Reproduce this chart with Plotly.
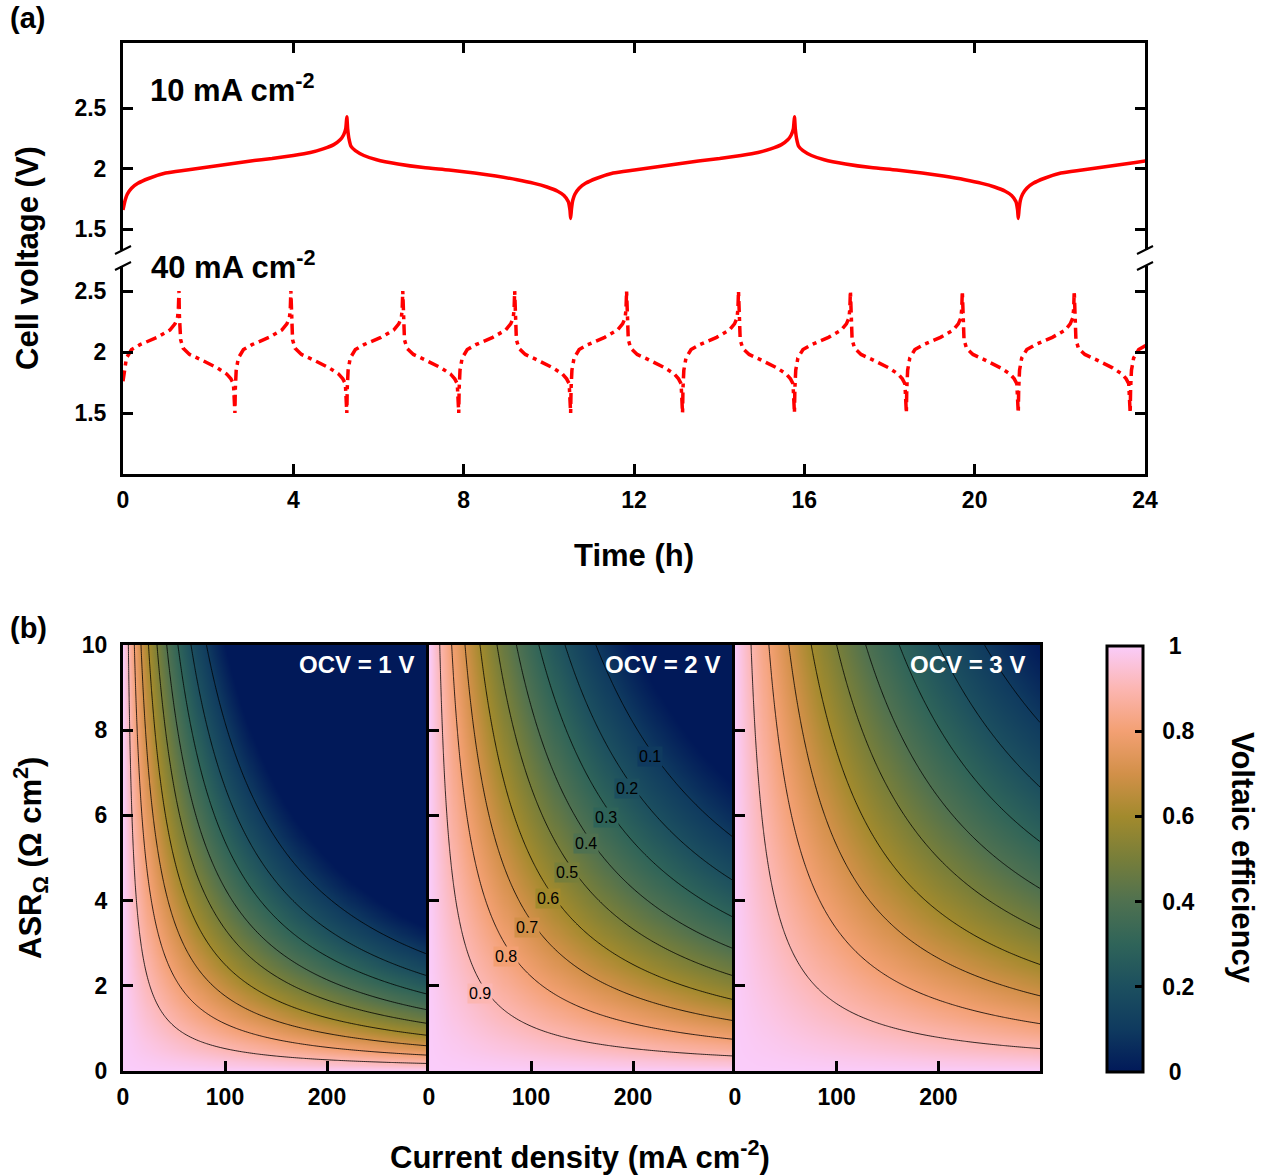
import numpy as np
import plotly.graph_objects as go
from plotly.colors import find_intermediate_color, hex_to_rgb

W, H = 1262, 1175
def px(x):
    return x / W
def py(y):
    return 1 - y / H

FONT = "Liberation Sans, Arial, sans-serif"

# ---------------- (a) cell voltage data ----------------
time_ticks = [0, 4, 8, 12, 16, 20, 24]
volt_ticks = [1.5, 2, 2.5]
volt_ticktext = ["1.5", "2", "2.5"]

# 10 mA cm-2 : one charge and one discharge half-cycle (relative time in h, V)
half_10 = 5.256
chg10_tau = [0, 0.02, 0.05, 0.1, 0.2, 0.35, 0.6, 1.0, 1.5, 2.0, 2.5, 3.0, 3.5, 4.0,
             4.4, 4.7, 4.95, 5.1, 5.18, 5.23, 5.256]
chg10_v = [1.59, 1.67, 1.74, 1.79, 1.84, 1.88, 1.92, 1.965, 1.99, 2.015, 2.04, 2.065,
           2.085, 2.11, 2.135, 2.165, 2.20, 2.24, 2.28, 2.33, 2.43]
dis10_tau = [0, 0.02, 0.05, 0.1, 0.2, 0.4, 0.7, 1.2, 1.8, 2.4, 3.0, 3.5, 4.0, 4.4, 4.7,
             4.95, 5.1, 5.2, 5.24, 5.256]
dis10_v = [2.43, 2.33, 2.25, 2.185, 2.15, 2.11, 2.075, 2.04, 2.01, 1.99, 1.965, 1.94,
           1.91, 1.88, 1.85, 1.815, 1.78, 1.73, 1.66, 1.59]
first_v10 = 1.66

# 40 mA cm-2
half_40 = 1.314
chg40_tau = [0, 0.01, 0.03, 0.08, 0.2, 0.4, 0.8, 1.1, 1.22, 1.28, 1.30, 1.314]
chg40_v = [1.50, 1.70, 1.85, 1.95, 2.02, 2.06, 2.12, 2.18, 2.23, 2.28, 2.35, 2.50]
dis40_tau = [0, 0.01, 0.04, 0.1, 0.25, 0.5, 0.9, 1.12, 1.22, 1.28, 1.30, 1.314]
dis40_v = [2.50, 2.30, 2.10, 2.03, 1.98, 1.94, 1.87, 1.82, 1.78, 1.74, 1.65, 1.50]
first_v40 = 1.76


def build_series(half, c_tau, c_v, d_tau, d_v, first_v, t_end=24.5):
    t_all, v_all = [], []
    k = 0
    while k * half < t_end:
        off = k * half
        if k % 2 == 0:
            tau, v = list(c_tau), list(c_v)
        else:
            tau, v = list(d_tau), list(d_v)
        if k == 0:
            tau = [0] + tau[2:]
            v = [first_v] + v[2:]
        else:
            tau, v = tau[1:], v[1:]
        t_all += [off + a for a in tau]
        v_all += v
        k += 1
    return t_all, v_all


t10, v10 = build_series(half_10, chg10_tau, chg10_v, dis10_tau, dis10_v, first_v10)
t40, v40 = build_series(half_40, chg40_tau, chg40_v, dis40_tau, dis40_v, first_v40)

# ---------------- (b) voltaic efficiency maps ----------------
ocv_values = [1, 2, 3]
ocv_labels = ["OCV = 1 V", "OCV = 2 V", "OCV = 3 V"]
current_density = np.arange(0, 301, 2)          # mA cm-2
asr_values = np.linspace(0, 10, 201)             # ohm cm2
current_ticks = [0, 100, 200]
asr_ticks = [0, 2, 4, 6, 8, 10]
cbar_ticks = [0, 0.2, 0.4, 0.6, 0.8, 1]
cbar_ticktext = ["0", "0.2", "0.4", "0.6", "0.8", "1"]

# contour labels in the OCV = 2 V panel (level, j [mA cm-2], ASR [ohm cm2])
label_levels = [0.1, 0.2, 0.3, 0.4, 0.5, 0.6, 0.7, 0.8, 0.9]
label_j = [216.7, 194.1, 173.5, 153.9, 135.3, 116.6, 96.1, 75.5, 50.0]
label_asr = [7.39, 6.64, 5.96, 5.33, 4.67, 4.04, 3.36, 2.68, 1.81]

batlow = [
    [0.0, "#011959"], [0.1, "#0F3A5F"], [0.2, "#1C4F5F"], [0.3, "#2F6459"],
    [0.4, "#4F7150"], [0.5, "#777E3A"], [0.6, "#A28A2D"], [0.7, "#D29049"],
    [0.8, "#F3A073"], [0.9, "#FCB6B2"], [1.0, "#FACCFA"],
]


def scale_color(v):
    for (a, ca), (b, cb) in zip(batlow[:-1], batlow[1:]):
        if a <= v <= b:
            f = (v - a) / (b - a) if b > a else 0
            c = find_intermediate_color(hex_to_rgb(ca), hex_to_rgb(cb), f)
            return "rgb(%d,%d,%d)" % tuple(int(round(q)) for q in c)
    return batlow[-1][1]


# centre the colour-bar labels like the reference (pad short labels more)
NB = "\u00a0"
cbar_labels_padded = [(NB * 3 if len(t) == 1 else NB * 2) + t for t in cbar_ticktext]

fig = go.Figure()

# --- top panel traces
fig.add_trace(go.Scatter(x=t10, y=v10, mode="lines", xaxis="x", yaxis="y2",
                         line=dict(color="#ff0000", width=3.5, shape="spline",
                                   smoothing=0.6),
                         showlegend=False))
fig.add_trace(go.Scatter(x=t40, y=v40, mode="lines", xaxis="x", yaxis="y",
                         line=dict(color="#ff0000", width=3.5, dash="11px,5px,4px,5px"),
                         showlegend=False))
# empty trace so the top mirror axis is drawn
fig.add_trace(go.Scatter(x=[None], y=[None], xaxis="x5", yaxis="y2", mode="lines",
                         showlegend=False, hoverinfo="skip"))

# --- bottom panels
J, R = np.meshgrid(current_density / 1000.0, asr_values)
for i, ocv in enumerate(ocv_values):
    ve = (ocv - J * R) / (ocv + J * R)
    xa = "x%d" % (i + 2)
    ya = "y%d" % (i + 3)
    hm = dict(x=current_density, y=asr_values, z=np.clip(ve, 0, 1), zmin=0, zmax=1,
              colorscale=batlow, zsmooth="best", xaxis=xa, yaxis=ya, showscale=(i == 0))
    if i == 0:
        hm["colorbar"] = dict(
            x=px(1107), xanchor="left", y=py(859), yanchor="middle",
            lenmode="pixels", len=426, thickness=36, thicknessmode="pixels",
            outlinewidth=3, outlinecolor="black", xpad=0, ypad=0,
            ticks="inside", ticklen=9, tickwidth=3, tickcolor="black",
            tickvals=cbar_ticks, ticktext=cbar_labels_padded,
            tickfont=dict(family=FONT, size=23, color="black", weight="bold"),
        )
    fig.add_trace(go.Heatmap(**hm))
    fig.add_trace(go.Contour(
        x=current_density, y=asr_values, z=ve, xaxis=xa, yaxis=ya, showscale=False,
        contours=dict(start=0.1, end=0.9, size=0.1, coloring="none", showlabels=False),
        line=dict(color="black", width=0.8), hoverinfo="skip",
    ))

axis_common = dict(showline=True, linewidth=3, linecolor="black", ticks="inside",
                   ticklen=10, tickwidth=3, tickcolor="black", showgrid=False,
                   zeroline=False, automargin=False,
                   tickfont=dict(family=FONT, size=23, color="black", weight="bold"))

layout = dict(
    width=W, height=H, margin=dict(l=0, r=0, t=0, b=0, autoexpand=False),
    paper_bgcolor="white", plot_bgcolor="white",
    font=dict(family=FONT, color="black"),
    showlegend=False,
    xaxis=dict(domain=[px(123), px(1145)], range=[0, 24], tickvals=time_ticks,
               anchor="y", ticklabelstandoff=3, **axis_common),
    xaxis5=dict(domain=[px(123), px(1145)], range=[0, 24], tickvals=time_ticks,
                anchor="y2", overlaying="x", side="top", showticklabels=False,
                **axis_common),
    yaxis=dict(domain=[py(474), py(266)], range=[1.0, 2.705], tickvals=volt_ticks,
               ticktext=volt_ticktext, anchor="x", mirror="ticks",
               ticklabelstandoff=9, **axis_common),
    yaxis2=dict(domain=[py(250), py(43)], range=[1.329, 3.04], tickvals=volt_ticks,
                ticktext=volt_ticktext, anchor="x", mirror="ticks",
                ticklabelstandoff=9, **axis_common),
)

panel_x = [(123, 429), (429, 735), (735, 1040)]
for i, (x0, x1) in enumerate(panel_x):
    layout["xaxis%d" % (i + 2)] = dict(domain=[px(x0), px(x1)], range=[0, 300],
                                        tickvals=current_ticks, anchor="y%d" % (i + 3),
                                        mirror=True, ticklabelstandoff=3, **axis_common)
    layout["yaxis%d" % (i + 3)] = dict(domain=[py(1071), py(645)], range=[0, 10],
                                        tickvals=asr_ticks, anchor="x%d" % (i + 2),
                                        mirror=True, showticklabels=(i == 0),
                                        ticklabelstandoff=8, **axis_common)

fig.update_layout(**layout)

# --- text
def ann(text, x, y, size, xanchor="center", yanchor="middle", angle=0, color="black",
        weight="bold"):
    fig.add_annotation(text=text, x=px(x), y=py(y), xref="paper", yref="paper",
                       xanchor=xanchor, yanchor=yanchor, textangle=angle,
                       showarrow=False,
                       font=dict(family=FONT, size=size, color=color, weight=weight))

ann("(a)", 8, 18, 29, xanchor="left")
ann("(b)", 8, 628, 29, xanchor="left")
ann("10 mA cm<sup>-2</sup>", 148, 88, 31, xanchor="left")
ann("40 mA cm<sup>-2</sup>", 149, 265, 31, xanchor="left")
ann("Cell voltage (V)", 27, 258, 31, angle=-90)
ann("Time (h)", 634, 555, 31)
ann("ASR<sub>Ω</sub> (Ω cm<sup>2</sup>)", 30, 858, 31, angle=-90)
ann("Current density (mA cm<sup>-2</sup>)", 580, 1155, 31)
ann("Voltaic efficiency", 1243, 858, 31, angle=90)
for i, (x0, x1) in enumerate(panel_x):
    ann(ocv_labels[i], x1 - 13, 664, 24, xanchor="right", color="white")

# contour labels (horizontal, on the contour, background = local map colour)
for lev, jj, rr in zip(label_levels, label_j, label_asr):
    fig.add_annotation(text="%.1f" % lev, x=jj, y=rr, xref="x3", yref="y4",
                       showarrow=False, xanchor="center", yanchor="middle",
                       bgcolor=scale_color(lev), borderpad=1,
                       font=dict(family=FONT, size=16, color="black"))

# --- axis-break marks
for yb in (250, 266):
    for xb in (123, 1145):
        fig.add_shape(type="line", xref="paper", yref="paper",
                      x0=px(xb - 8), y0=py(yb + 4), x1=px(xb + 8), y1=py(yb - 4),
                      line=dict(color="black", width=2))

fig.write_html("out.html")
